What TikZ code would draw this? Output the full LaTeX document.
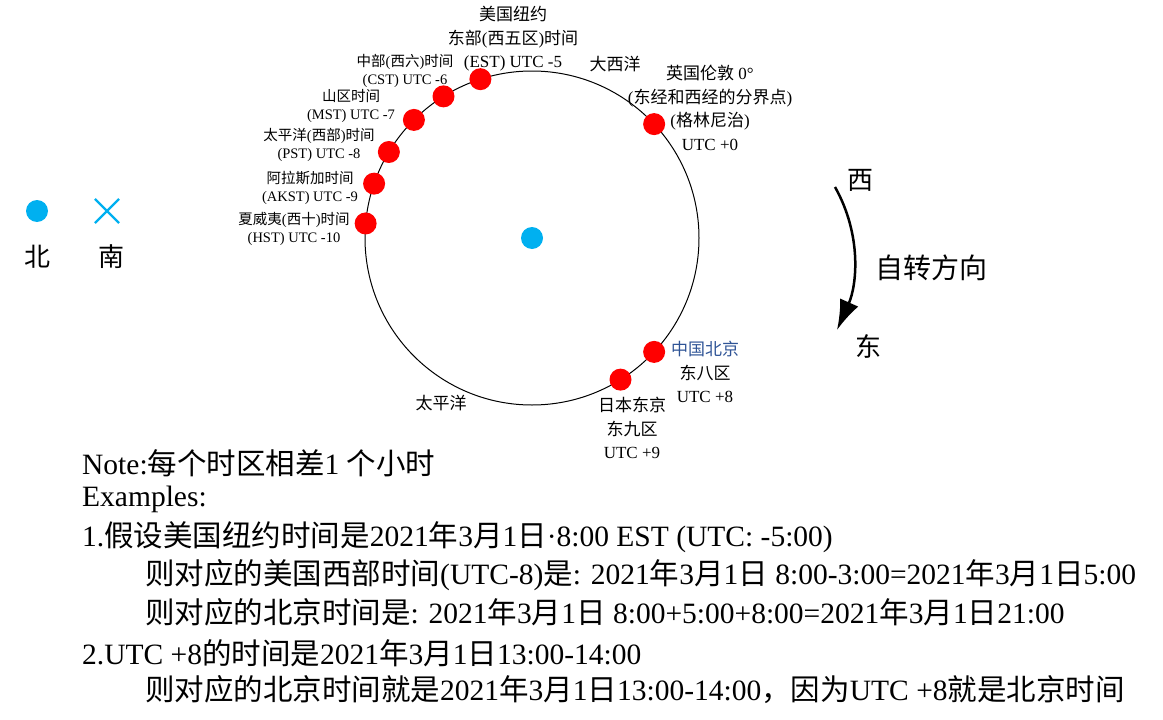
\documentclass[tikz,border=0pt]{standalone}
\usepackage{fontspec}
\setmainfont{Liberation Serif}
\newfontfamily\cjk{Noto Sans CJK SC}
\usetikzlibrary{calc, arrows.meta, shapes.misc}

% switch to the CJK font for CJK characters
\XeTeXinterchartokenstate=1
\newXeTeXintercharclass\CJKclass
\count255="4E00
\loop \XeTeXcharclass\count255=\CJKclass \ifnum\count255<"9FFF \advance\count255 by 1 \repeat
\count255="3000
\loop \XeTeXcharclass\count255=\CJKclass \ifnum\count255<"303F \advance\count255 by 1 \repeat
\count255="FF00
\loop \XeTeXcharclass\count255=\CJKclass \ifnum\count255<"FFEF \advance\count255 by 1 \repeat
\XeTeXinterchartoks 0 \CJKclass = {\cjk}
\XeTeXinterchartoks 4095 \CJKclass = {\cjk}
\XeTeXinterchartoks \CJKclass 0 = {\rmfamily}
\XeTeXinterchartoks \CJKclass 4095 = {\rmfamily}

\definecolor{skyblue}{RGB}{0,176,240}
\definecolor{bjblue}{RGB}{47,84,150}

\tikzset{
  reddot/.style={circle, fill=red, minimum size=22pt, inner sep=0pt},
  bluedot/.style={circle, fill=skyblue, minimum size=22pt, inner sep=0pt},
  zonebig/.style={align=center, inner sep=0pt, font=\fontsize{17}{23.5}\selectfont},
  zonesmall/.style={align=center, inner sep=0pt, font=\fontsize{14.5}{18.5}\selectfont},
  bigtext/.style={inner sep=0pt, font=\fontsize{26}{30}\selectfont},
  notes/.style={anchor=west, inner sep=0pt, font=\fontsize{29.5}{34}\selectfont},
}

\begin{document}
\begin{tikzpicture}[x=1pt, y=-1pt]
  \useasboundingbox (0,0) rectangle (1163,720);

  \coordinate (O) at (532,238);
  \draw[line width=1pt] (O) circle[radius=167pt];
  \node[bluedot] (Center) at (O) {};

  \foreach \a/\z in {108/EST, 122/CST, 135/MST, 149/PST, 161/AKST, 175/HST, 43/GMT, -43/BJ, -58/TK} {
    \node[reddot] (Dot\z) at ([shift={(\a:167pt)}]O) {};
  }

  \node[zonebig] (LabEST) at (513,39) {美国纽约\\东部(西五区)时间\\(EST) UTC -5};
  \node[zonesmall] (LabCST) at (405,71) {中部(西六)时间\\(CST) UTC -6};
  \node[zonesmall] (LabMST) at (351,106) {山区时间\\(MST) UTC -7};
  \node[zonesmall] (LabPST) at (319,145) {太平洋(西部)时间\\(PST) UTC -8};
  \node[zonesmall] (LabAKST) at (310,188) {阿拉斯加时间\\(AKST) UTC -9};
  \node[zonesmall] (LabHST) at (294,229) {夏威夷(西十)时间\\(HST) UTC -10};
  \node[zonebig] (LabGMT) at (710,108) {英国伦敦 0°\\(东经和西经的分界点)\\(格林尼治)\\UTC +0};
  \node[zonebig] (LabBJ) at (705,372) {{\color{bjblue}中国北京}\\东八区\\UTC +8};
  \node[zonebig] (LabTK) at (632,428) {日本东京\\东九区\\UTC +9};

  \node[zonebig] (Atlantic) at (615,64) {大西洋};
  \node[zonebig] (Pacific) at (441,403) {太平洋};

  % north / south
  \node[bluedot] (North) at (37,211) {};
  \node[cross out, draw=skyblue, line width=2.2pt, minimum size=22pt, inner sep=0pt] (South) at (107,211) {};
  \node[bigtext] (NorthLab) at (37,257) {北};
  \node[bigtext] (SouthLab) at (111,257) {南};

  % rotation
  \node[bigtext] (West) at (860,180) {西};
  \node[bigtext] (East) at (868,346) {东};
  \node[inner sep=0pt, font=\fontsize{28}{32}\selectfont] (Spin) at (931,268) {自转方向};
  \coordinate (ArrowStart) at (835,187);
  \coordinate (ArrowEnd) at (837,330);
  \draw[line width=2.5pt, -{Latex[length=30pt, width=20pt]}] (ArrowStart) .. controls (862,235) and (857,285) .. (ArrowEnd);

  \node[notes] (Note) at (82,463) {Note:每个时区相差1 个小时};
  \node[notes] (Ex) at (82,499) {Examples:};
  \node[notes] (Ex1) at (82,537) {1.假设美国纽约时间是2021年3月1日·8:00 EST (UTC: -5:00)};
  \node[notes] (Ex1a) at (145,575) {则对应的美国西部时间(UTC-8)是: 2021年3月1日 8:00-3:00=2021年3月1日5:00};
  \node[notes] (Ex1b) at (145,612) {则对应的北京时间是: 2021年3月1日 8:00+5:00+8:00=2021年3月1日21:00};
  \node[notes] (Ex2) at (82,653) {2.UTC +8的时间是2021年3月1日13:00-14:00};
  \node[notes] (Ex2a) at (145,690) {则对应的北京时间就是2021年3月1日13:00-14:00，因为UTC +8就是北京时间};
\end{tikzpicture}
\end{document}
